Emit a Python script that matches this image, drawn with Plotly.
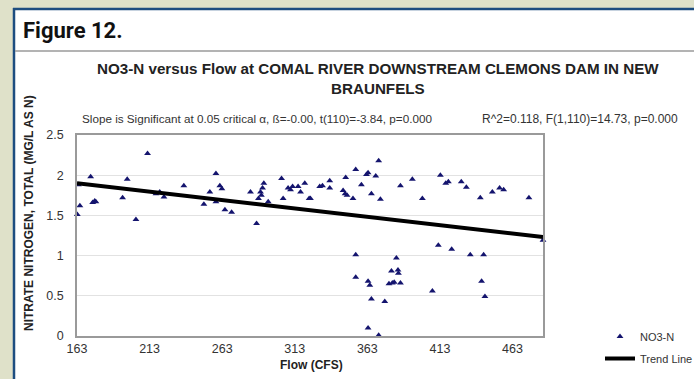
import plotly.graph_objects as go

# ---------------- data ----------------
flow = [163.2, 165, 164, 172.4, 173.8, 175.2, 176, 194.4, 197.6, 203.6, 211.6, 217.4, 220, 222.9,
        236.6, 250.4, 254.5, 258.7, 258.7, 261.4, 262.8, 264.9, 269.5, 282.5, 286.7, 288, 289.4,
        290.8, 291.7, 290, 294.7, 303.9, 305, 308.4, 310.1, 311.5, 315.3, 317, 319.9, 322.9,
        323.8, 330.2, 332.1, 337.1, 337.1, 348.1, 346.3, 347.7, 349, 353.1, 355, 358.9, 362.4,
        363.5, 365.8, 368.8, 370.8, 372, 385.8, 394, 400.9,
        355, 355, 363.5, 364.7, 365.8, 375, 363.5, 370.8, 383, 379.6, 384.1, 384.4, 377.9, 380.2,
        381.5, 385.8,
        413.3, 417, 418.8, 427.7, 431.2, 440.8, 449.1, 454.1, 456.9, 474.3, 484,
        411.9, 421.1, 433.9, 443.1, 407.8, 441.7, 444]
no3n = [1.51, 1.62, 1.88, 1.98, 1.66, 1.68, 1.67, 1.72, 1.95, 1.45, 2.27, 1.77, 1.79, 1.73,
        1.87, 1.64, 1.79, 2.02, 1.67, 1.87, 1.83, 1.57, 1.54, 1.79, 1.40, 1.71, 1.79,
        1.84, 1.90, 1.75, 1.67, 1.96, 1.71, 1.84, 1.82, 1.86, 1.86, 1.79, 1.90, 1.71,
        1.71, 1.86, 1.87, 1.93, 1.84, 1.97, 1.81, 1.77, 1.75, 1.71, 2.07, 1.88, 2.01,
        2.03, 1.77, 1.99, 2.18, 1.70, 1.87, 1.95, 1.71,
        1.01, 0.73, 0.68, 0.63, 0.46, 0.43, 0.10, 0.01, 0.97, 0.81, 0.82, 0.78, 0.65, 0.66,
        0.67, 0.66,
        2.00, 1.90, 1.92, 1.92, 1.85, 1.72, 1.79, 1.84, 1.82, 1.72, 1.19,
        1.13, 1.08, 1.01, 1.01, 0.56, 0.68, 0.49]
trend_flow = [163, 484]
trend_no3n = [1.90, 1.23]

x_ticks = [163, 213, 263, 313, 363, 413, 463]
x_tick_labels = ["163", "213", "263", "313", "363", "413", "463"]
y_ticks = [0, 0.5, 1, 1.5, 2, 2.5]
y_tick_labels = ["0", "0.5", "1", "1.5", "2", "2.5"]

# ---------------- layout geometry (pixels) ----------------
W, H = 694, 379
PL, PR, PT, PB = 77, 543, 135, 336


def px(x):
    return (x - PL) / (PR - PL)


def py(y):
    return (PB - y) / (PB - PT)


FONT = "Arial, Liberation Sans, sans-serif"
OLIVE = "#dfe1c9"
BLUE = "#1d4d80"

fig = go.Figure()
fig.add_trace(go.Scatter(
    x=flow, y=no3n, mode="markers", name="NO3-N",
    marker=dict(symbol="triangle-up", size=6, color="#14146e"),
    cliponaxis=False, legendgroup="a"))
fig.add_trace(go.Scatter(
    x=trend_flow, y=trend_no3n, mode="lines", name="Trend Line",
    line=dict(color="black", width=4), legendgroup="b"))

shapes = [
    # white panel
    dict(type="rect", xref="paper", yref="paper", x0=px(14), x1=px(W + 5), y0=py(9), y1=py(H + 5),
         fillcolor="white", line=dict(width=0), layer="below"),
    # blue frame (left and top)
    dict(type="line", xref="paper", yref="paper", x0=px(14), x1=px(14), y0=py(8), y1=py(H + 5),
         line=dict(color=BLUE, width=2.5), layer="below"),
    dict(type="line", xref="paper", yref="paper", x0=px(13), x1=px(W + 5), y0=py(9), y1=py(9),
         line=dict(color=BLUE, width=2.5), layer="below"),
    # header separator
    dict(type="line", xref="paper", yref="paper", x0=px(15), x1=px(W + 5), y0=py(51), y1=py(51),
         line=dict(color="#9a9a9a", width=1.5), layer="below"),
]

annotations = [
    dict(text="<b>Figure 12.</b>", x=px(21), y=py(31), xanchor="left", yanchor="middle",
         font=dict(family="Liberation Sans Narrow, Arial Narrow, Roboto, sans-serif", size=22, color="#111")),
    dict(text="<b>NO3-N versus Flow at COMAL RIVER DOWNSTREAM CLEMONS DAM IN NEW<br>BRAUNFELS</b>",
         x=px(378), y=py(79), xanchor="center", yanchor="middle", align="center",
         font=dict(family=FONT, size=15.2, color="#222")),
    dict(text="Slope is Significant at 0.05 critical \u03b1, \u00df=-0.00, t(110)=-3.84, p=0.000",
         x=px(80), y=py(119), xanchor="left", yanchor="middle",
         font=dict(family=FONT, size=11.7, color="#333")),
    dict(text="R^2=0.118, F(1,110)=14.73, p=0.000",
         x=px(680), y=py(119), xanchor="right", yanchor="middle",
         font=dict(family=FONT, size=12, color="#333")),
    dict(text="<b>NITRATE NITROGEN, TOTAL (MG/L AS N)</b>", x=px(29), y=py(213), textangle=-90,
         xanchor="center", yanchor="middle", font=dict(family=FONT, size=12, color="#222")),
    dict(text="<b>Flow (CFS)</b>", x=px(311), y=py(365), xanchor="center", yanchor="middle",
         font=dict(family=FONT, size=12, color="#222")),
]
for a in annotations:
    a.update(xref="paper", yref="paper", showarrow=False)

fig.update_layout(
    width=W, height=H,
    margin=dict(l=PL, r=W - PR, t=PT, b=H - PB, pad=0, autoexpand=False),
    paper_bgcolor=OLIVE, plot_bgcolor="white",
    font=dict(family=FONT, size=12, color="#333"),
    shapes=shapes, annotations=annotations,
    showlegend=True,
    legend=dict(x=px(600), y=py(322), xanchor="left", yanchor="top",
                bgcolor="rgba(0,0,0,0)", font=dict(family=FONT, size=11, color="#333"),
                tracegroupgap=3, itemwidth=30),
)
fig.update_xaxes(range=[163, 484], tickvals=x_ticks, ticktext=x_tick_labels,
                 showgrid=False, zeroline=False, showline=True, mirror=True,
                 linecolor="#9a9a9a", linewidth=1.5, ticks="", tickfont=dict(size=12.5, color="#333"))
fig.update_yaxes(range=[0, 2.5], tickvals=y_ticks, ticktext=y_tick_labels,
                 showgrid=True, gridcolor="#e2e2e2", gridwidth=1, zeroline=False,
                 showline=True, mirror=True, linecolor="#9a9a9a", linewidth=1.5,
                 ticks="", ticklabelstandoff=9, tickfont=dict(size=12.5, color="#333"))

fig.write_html(
    "out.html",
    config={"displayModeBar": False},
    post_script="document.body.style.margin='0';document.body.style.background='" + OLIVE + "';",
)
